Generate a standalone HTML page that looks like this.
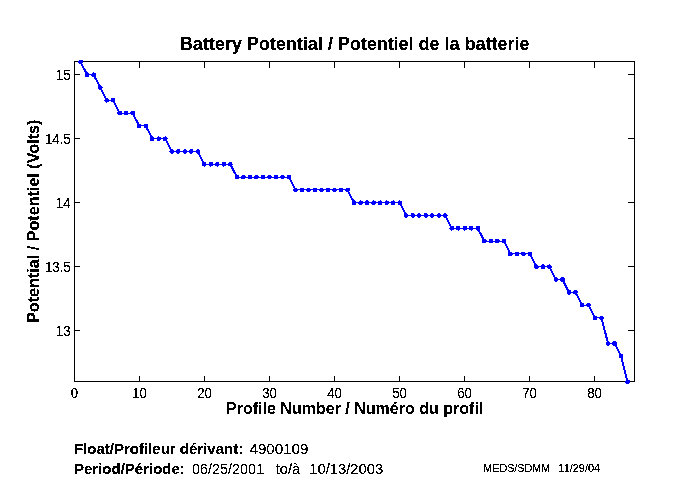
<!DOCTYPE html>
<html><head><meta charset="utf-8"><title>Battery Potential / Potentiel de la batterie</title>
<style>
html,body{margin:0;padding:0;background:#fff;}
body{width:680px;height:500px;overflow:hidden;}
svg{display:block;font-family:"Liberation Sans",sans-serif;fill:#000;}
.b{font-weight:bold;}
</style></head><body>
<svg style="will-change:transform" width="680" height="500" viewBox="0 0 680 500">
<rect width="680" height="500" fill="#fff"/>
<g fill="#000" shape-rendering="crispEdges">
<rect x="74" y="61" width="561" height="1"/><rect x="74" y="381" width="561" height="1"/>
<rect x="74" y="61" width="1" height="321"/><rect x="634" y="61" width="1" height="321"/>
<rect x="74" y="62" width="1" height="6"/><rect x="74" y="376" width="1" height="5"/><rect x="139" y="62" width="1" height="6"/><rect x="139" y="376" width="1" height="5"/><rect x="204" y="62" width="1" height="6"/><rect x="204" y="376" width="1" height="5"/><rect x="269" y="62" width="1" height="6"/><rect x="269" y="376" width="1" height="5"/><rect x="334" y="62" width="1" height="6"/><rect x="334" y="376" width="1" height="5"/><rect x="399" y="62" width="1" height="6"/><rect x="399" y="376" width="1" height="5"/><rect x="464" y="62" width="1" height="6"/><rect x="464" y="376" width="1" height="5"/><rect x="529" y="62" width="1" height="6"/><rect x="529" y="376" width="1" height="5"/><rect x="594" y="62" width="1" height="6"/><rect x="594" y="376" width="1" height="5"/><rect x="75" y="330" width="5" height="1"/><rect x="628" y="330" width="6" height="1"/><rect x="75" y="266" width="5" height="1"/><rect x="628" y="266" width="6" height="1"/><rect x="75" y="202" width="5" height="1"/><rect x="628" y="202" width="6" height="1"/><rect x="75" y="138" width="5" height="1"/><rect x="628" y="138" width="6" height="1"/><rect x="75" y="74" width="5" height="1"/><rect x="628" y="74" width="6" height="1"/>
</g>
<defs><filter id="bw" x="0" y="0" width="680" height="500" filterUnits="userSpaceOnUse" color-interpolation-filters="sRGB"><feComponentTransfer><feFuncA type="discrete" tableValues="0 0 1 1 1"/></feComponentTransfer></filter></defs>
<g filter="url(#bw)"><g font-size="14px"><text transform="translate(74.5,398) scale(0.94,1)" text-anchor="middle">0</text><text transform="translate(139.5,398) scale(0.94,1)" text-anchor="middle">10</text><text transform="translate(204.5,398) scale(0.94,1)" text-anchor="middle">20</text><text transform="translate(269.5,398) scale(0.94,1)" text-anchor="middle">30</text><text transform="translate(334.5,398) scale(0.94,1)" text-anchor="middle">40</text><text transform="translate(399.5,398) scale(0.94,1)" text-anchor="middle">50</text><text transform="translate(464.5,398) scale(0.94,1)" text-anchor="middle">60</text><text transform="translate(529.5,398) scale(0.94,1)" text-anchor="middle">70</text><text transform="translate(594.5,398) scale(0.94,1)" text-anchor="middle">80</text><text transform="translate(70.5,336.0) scale(0.94,1)" text-anchor="end">13</text><text transform="translate(70.5,272.0) scale(0.94,1)" text-anchor="end">13.5</text><text transform="translate(70.5,208.0) scale(0.94,1)" text-anchor="end">14</text><text transform="translate(70.5,144.0) scale(0.94,1)" text-anchor="end">14.5</text><text transform="translate(70.5,80.0) scale(0.94,1)" text-anchor="end">15</text></g>
<text class="b" transform="translate(179.80,50.00) scale(0.9998,1)" font-size="18px">Battery Potential / Potentiel de la batterie</text>
<text class="b" transform="translate(226.00,414.00) scale(0.9603,1)" font-size="16.7px">Profile Number / Numéro du profil</text>
<text class="b" transform="translate(39.00,323.00) rotate(-90) scale(0.9676,1)" font-size="16.7px">Potential / Potentiel (Volts)</text>
<text class="b" transform="translate(74.00,454.00) scale(0.9810,1)" font-size="15.3px">Float/Profileur dérivant:</text>
<text transform="translate(249.50,454.00) scale(0.9905,1)" font-size="15.3px">4900109</text>
<text class="b" transform="translate(74.00,474.00) scale(0.9816,1)" font-size="15.3px">Period/Période:</text>
<text transform="translate(192.00,474.00) scale(0.9428,1)" font-size="15.3px">06/25/2001</text>
<text transform="translate(275.40,474.00) scale(0.9796,1)" font-size="15.3px">to/à</text>
<text transform="translate(309.30,474.00) scale(0.9664,1)" font-size="15.3px">10/13/2003</text>
<text transform="translate(483.20,472.00) scale(0.9818,1)" font-size="11px">MEDS/SDMM</text>
<text transform="translate(558.60,472.00) scale(0.9856,1)" font-size="11px">11/29/04</text>
</g>
<g fill="none" stroke="#0000ff" stroke-width="1" shape-rendering="crispEdges"><polyline points="80.61,61.90 87.12,74.70 93.63,74.70 100.15,87.50 106.66,100.30 113.17,100.30 119.68,113.10 126.19,113.10 132.70,113.10 139.22,125.90 145.73,125.90 152.24,138.70 158.75,138.70 165.26,138.70 171.77,151.50 178.29,151.50 184.80,151.50 191.31,151.50 197.82,151.50 204.33,164.30 210.84,164.30 217.36,164.30 223.87,164.30 230.38,164.30 236.89,177.10 243.40,177.10 249.91,177.10 256.43,177.10 262.94,177.10 269.45,177.10 275.96,177.10 282.47,177.10 288.98,177.10 295.50,189.90 302.01,189.90 308.52,189.90 315.03,189.90 321.54,189.90 328.05,189.90 334.57,189.90 341.08,189.90 347.59,189.90 354.10,202.70 360.61,202.70 367.12,202.70 373.63,202.70 380.15,202.70 386.66,202.70 393.17,202.70 399.68,202.70 406.19,215.50 412.70,215.50 419.22,215.50 425.73,215.50 432.24,215.50 438.75,215.50 445.26,215.50 451.77,228.30 458.29,228.30 464.80,228.30 471.31,228.30 477.82,228.30 484.33,241.10 490.84,241.10 497.36,241.10 503.87,241.10 510.38,253.90 516.89,253.90 523.40,253.90 529.91,253.90 536.43,266.70 542.94,266.70 549.45,266.70 555.96,279.50 562.47,279.50 568.98,292.30 575.50,292.30 582.01,305.10 588.52,305.10 595.03,317.90 601.54,317.90 608.05,343.50 614.57,343.50 621.08,356.30 627.59,381.90" transform="translate(-0.5,0)"/><polyline points="80.61,61.90 87.12,74.70 93.63,74.70 100.15,87.50 106.66,100.30 113.17,100.30 119.68,113.10 126.19,113.10 132.70,113.10 139.22,125.90 145.73,125.90 152.24,138.70 158.75,138.70 165.26,138.70 171.77,151.50 178.29,151.50 184.80,151.50 191.31,151.50 197.82,151.50 204.33,164.30 210.84,164.30 217.36,164.30 223.87,164.30 230.38,164.30 236.89,177.10 243.40,177.10 249.91,177.10 256.43,177.10 262.94,177.10 269.45,177.10 275.96,177.10 282.47,177.10 288.98,177.10 295.50,189.90 302.01,189.90 308.52,189.90 315.03,189.90 321.54,189.90 328.05,189.90 334.57,189.90 341.08,189.90 347.59,189.90 354.10,202.70 360.61,202.70 367.12,202.70 373.63,202.70 380.15,202.70 386.66,202.70 393.17,202.70 399.68,202.70 406.19,215.50 412.70,215.50 419.22,215.50 425.73,215.50 432.24,215.50 438.75,215.50 445.26,215.50 451.77,228.30 458.29,228.30 464.80,228.30 471.31,228.30 477.82,228.30 484.33,241.10 490.84,241.10 497.36,241.10 503.87,241.10 510.38,253.90 516.89,253.90 523.40,253.90 529.91,253.90 536.43,266.70 542.94,266.70 549.45,266.70 555.96,279.50 562.47,279.50 568.98,292.30 575.50,292.30 582.01,305.10 588.52,305.10 595.03,317.90 601.54,317.90 608.05,343.50 614.57,343.50 621.08,356.30 627.59,381.90" transform="translate(0.5,0)"/></g>
<g fill="#0000ff" shape-rendering="crispEdges"><circle cx="80.61" cy="61.90" r="2.4"/><circle cx="87.12" cy="74.70" r="2.4"/><circle cx="93.63" cy="74.70" r="2.4"/><circle cx="100.15" cy="87.50" r="2.4"/><circle cx="106.66" cy="100.30" r="2.4"/><circle cx="113.17" cy="100.30" r="2.4"/><circle cx="119.68" cy="113.10" r="2.4"/><circle cx="126.19" cy="113.10" r="2.4"/><circle cx="132.70" cy="113.10" r="2.4"/><circle cx="139.22" cy="125.90" r="2.4"/><circle cx="145.73" cy="125.90" r="2.4"/><circle cx="152.24" cy="138.70" r="2.4"/><circle cx="158.75" cy="138.70" r="2.4"/><circle cx="165.26" cy="138.70" r="2.4"/><circle cx="171.77" cy="151.50" r="2.4"/><circle cx="178.29" cy="151.50" r="2.4"/><circle cx="184.80" cy="151.50" r="2.4"/><circle cx="191.31" cy="151.50" r="2.4"/><circle cx="197.82" cy="151.50" r="2.4"/><circle cx="204.33" cy="164.30" r="2.4"/><circle cx="210.84" cy="164.30" r="2.4"/><circle cx="217.36" cy="164.30" r="2.4"/><circle cx="223.87" cy="164.30" r="2.4"/><circle cx="230.38" cy="164.30" r="2.4"/><circle cx="236.89" cy="177.10" r="2.4"/><circle cx="243.40" cy="177.10" r="2.4"/><circle cx="249.91" cy="177.10" r="2.4"/><circle cx="256.43" cy="177.10" r="2.4"/><circle cx="262.94" cy="177.10" r="2.4"/><circle cx="269.45" cy="177.10" r="2.4"/><circle cx="275.96" cy="177.10" r="2.4"/><circle cx="282.47" cy="177.10" r="2.4"/><circle cx="288.98" cy="177.10" r="2.4"/><circle cx="295.50" cy="189.90" r="2.4"/><circle cx="302.01" cy="189.90" r="2.4"/><circle cx="308.52" cy="189.90" r="2.4"/><circle cx="315.03" cy="189.90" r="2.4"/><circle cx="321.54" cy="189.90" r="2.4"/><circle cx="328.05" cy="189.90" r="2.4"/><circle cx="334.57" cy="189.90" r="2.4"/><circle cx="341.08" cy="189.90" r="2.4"/><circle cx="347.59" cy="189.90" r="2.4"/><circle cx="354.10" cy="202.70" r="2.4"/><circle cx="360.61" cy="202.70" r="2.4"/><circle cx="367.12" cy="202.70" r="2.4"/><circle cx="373.63" cy="202.70" r="2.4"/><circle cx="380.15" cy="202.70" r="2.4"/><circle cx="386.66" cy="202.70" r="2.4"/><circle cx="393.17" cy="202.70" r="2.4"/><circle cx="399.68" cy="202.70" r="2.4"/><circle cx="406.19" cy="215.50" r="2.4"/><circle cx="412.70" cy="215.50" r="2.4"/><circle cx="419.22" cy="215.50" r="2.4"/><circle cx="425.73" cy="215.50" r="2.4"/><circle cx="432.24" cy="215.50" r="2.4"/><circle cx="438.75" cy="215.50" r="2.4"/><circle cx="445.26" cy="215.50" r="2.4"/><circle cx="451.77" cy="228.30" r="2.4"/><circle cx="458.29" cy="228.30" r="2.4"/><circle cx="464.80" cy="228.30" r="2.4"/><circle cx="471.31" cy="228.30" r="2.4"/><circle cx="477.82" cy="228.30" r="2.4"/><circle cx="484.33" cy="241.10" r="2.4"/><circle cx="490.84" cy="241.10" r="2.4"/><circle cx="497.36" cy="241.10" r="2.4"/><circle cx="503.87" cy="241.10" r="2.4"/><circle cx="510.38" cy="253.90" r="2.4"/><circle cx="516.89" cy="253.90" r="2.4"/><circle cx="523.40" cy="253.90" r="2.4"/><circle cx="529.91" cy="253.90" r="2.4"/><circle cx="536.43" cy="266.70" r="2.4"/><circle cx="542.94" cy="266.70" r="2.4"/><circle cx="549.45" cy="266.70" r="2.4"/><circle cx="555.96" cy="279.50" r="2.4"/><circle cx="562.47" cy="279.50" r="2.4"/><circle cx="568.98" cy="292.30" r="2.4"/><circle cx="575.50" cy="292.30" r="2.4"/><circle cx="582.01" cy="305.10" r="2.4"/><circle cx="588.52" cy="305.10" r="2.4"/><circle cx="595.03" cy="317.90" r="2.4"/><circle cx="601.54" cy="317.90" r="2.4"/><circle cx="608.05" cy="343.50" r="2.4"/><circle cx="614.57" cy="343.50" r="2.4"/><circle cx="621.08" cy="356.30" r="2.4"/><circle cx="627.59" cy="381.90" r="2.4"/></g>
</svg>
</body></html>
